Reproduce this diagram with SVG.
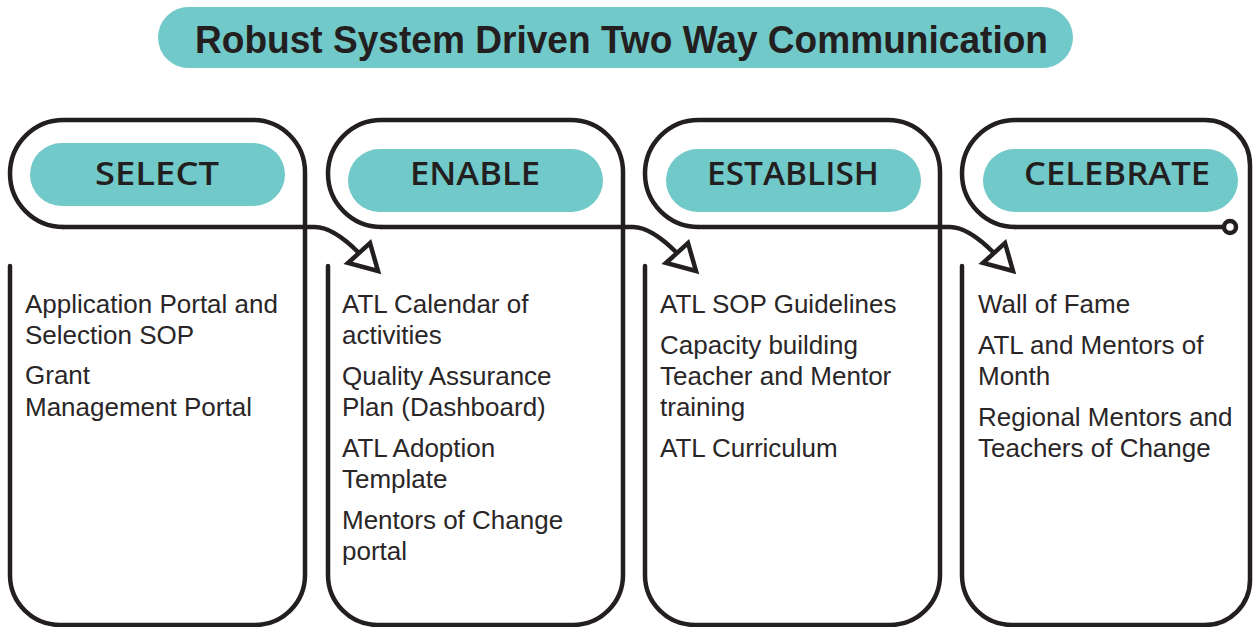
<svg xmlns="http://www.w3.org/2000/svg" width="1253" height="627" viewBox="0 0 1253 627">
<style>
.pill{fill:#71C9CA}
.frame{fill:none;stroke:#231F20;stroke-width:4.5;stroke-linecap:round;stroke-linejoin:round}
.conn{fill:none;stroke:#231F20;stroke-width:4.5;stroke-linecap:round}
.head{fill:#fff;stroke:#231F20;stroke-width:4.5;stroke-linejoin:miter}
.lbl{font-family:"Open Sans","Liberation Sans",sans-serif;font-weight:600;font-size:32px;fill:#231F20;text-anchor:middle}
.body{font-family:"Liberation Sans",Arial,sans-serif;font-size:26px;fill:#2a2627}
.title{font-family:"Liberation Sans",Arial,sans-serif;font-weight:700;font-size:38px;fill:#231F20;text-anchor:middle}
</style>
<rect width="1253" height="627" fill="#fff"/>
<g id="title">
<rect class="pill" x="158" y="7" width="915" height="61" rx="30.5"/>
<text class="title" x="621.5" y="53" textLength="853" lengthAdjust="spacingAndGlyphs">Robust System Driven Two Way Communication</text>
</g>
<g id="select">
<path class="frame" d="M63.5,227 A53.5,53.5 0 0 1 63.5,120 H253 A52,52 0 0 1 305,172 V575 A50,50 0 0 1 255,625 H60 A50,50 0 0 1 10,575 V266"/>
<path class="frame" d="M63.5,227 H305"/>
<rect class="pill" x="30" y="143" width="255" height="63" rx="31.5"/>
<text class="lbl" x="157" y="185" textLength="124" lengthAdjust="spacingAndGlyphs">SELECT</text>
<text class="body" x="25" y="313">Application Portal and</text>
<text class="body" x="25" y="344">Selection SOP</text>
<text class="body" x="25" y="384">Grant</text>
<text class="body" x="25" y="416">Management Portal</text>
</g>
<g id="enable">
<path class="frame" d="M381.5,227 A53.5,53.5 0 0 1 381.5,120 H571 A52,52 0 0 1 623,172 V575 A50,50 0 0 1 573,625 H378 A50,50 0 0 1 328,575 V266"/>
<path class="frame" d="M381.5,227 H623"/>
<rect class="pill" x="348" y="149" width="255" height="63" rx="31.5"/>
<text class="lbl" x="475" y="185" textLength="130" lengthAdjust="spacingAndGlyphs">ENABLE</text>
<text class="body" x="342" y="313">ATL Calendar of</text>
<text class="body" x="342" y="344">activities</text>
<text class="body" x="342" y="385">Quality Assurance</text>
<text class="body" x="342" y="416">Plan (Dashboard)</text>
<text class="body" x="342" y="457">ATL Adoption</text>
<text class="body" x="342" y="488">Template</text>
<text class="body" x="342" y="529">Mentors of Change</text>
<text class="body" x="342" y="560">portal</text>
</g>
<g id="establish">
<path class="frame" d="M698.5,227 A53.5,53.5 0 0 1 698.5,120 H888 A52,52 0 0 1 940,172 V575 A50,50 0 0 1 890,625 H695 A50,50 0 0 1 645,575 V266"/>
<path class="frame" d="M698.5,227 H940"/>
<rect class="pill" x="666" y="149" width="255" height="63" rx="31.5"/>
<text class="lbl" x="793" y="185" textLength="172" lengthAdjust="spacingAndGlyphs">ESTABLISH</text>
<text class="body" x="660" y="313">ATL SOP Guidelines</text>
<text class="body" x="660" y="354">Capacity building</text>
<text class="body" x="660" y="385">Teacher and Mentor</text>
<text class="body" x="660" y="416">training</text>
<text class="body" x="660" y="457">ATL Curriculum</text>
</g>
<g id="celebrate">
<path class="frame" d="M1015.5,227 A53.5,53.5 0 0 1 1015.5,120 H1205 A45,45 0 0 1 1250,165 V580 A45,45 0 0 1 1205,625 H1012 A50,50 0 0 1 962,575 V266"/>
<path class="frame" d="M1015.5,227 H1224"/>
<circle cx="1230" cy="227" r="6" fill="#fff" stroke="#231F20" stroke-width="4.5"/>
<rect class="pill" x="983" y="149" width="255" height="63" rx="31.5"/>
<text class="lbl" x="1117" y="185" textLength="186" lengthAdjust="spacingAndGlyphs">CELEBRATE</text>
<text class="body" x="978" y="313">Wall of Fame</text>
<text class="body" x="978" y="354">ATL and Mentors of</text>
<text class="body" x="978" y="385">Month</text>
<text class="body" x="978" y="426">Regional Mentors and</text>
<text class="body" x="978" y="457">Teachers of Change</text>
</g>
<g id="connectors">
<path class="conn" d="M305,227 H315 Q333,227 359,253"/>
<polygon class="head" points="348,263 370,243 378,271"/>
<path class="conn" d="M623,227 H633 Q651,227 677,253"/>
<polygon class="head" points="666,263 688,243 696,271"/>
<path class="conn" d="M940,227 H950 Q968,227 994,253"/>
<polygon class="head" points="983,263 1005,243 1013,271"/>
</g>
</svg>
